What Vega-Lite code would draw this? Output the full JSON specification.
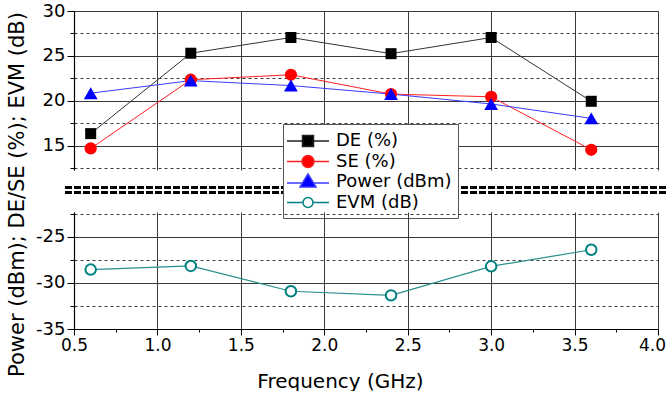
{
  "$schema": "https://vega.github.io/schema/vega-lite/v6.json",
  "padding": {"left": 5, "top": 2, "right": 0, "bottom": 0},
  "bounds": "flush",
  "resolve": {
    "scale": {"color": "independent", "fill": "independent", "shape": "independent"},
    "legend": {"color": "independent", "fill": "independent", "shape": "independent"}
  },
  "config": {
    "view": {"stroke": null},
    "font": "DejaVu Sans",
    "axis": {"domainColor": "black", "tickColor": "black", "labelColor": "black", "titleColor": "black", "gridColor": "#3a3a3a", "gridWidth": 1, "titleFontWeight": "normal", "domainWidth": 1.2, "labelFont": "DejaVu Sans", "titleFont": "DejaVu Sans", "labelFlush": false},
    "legend": {
      "orient": "none", "legendX": 209, "legendY": 113, "title": null,
      "fillColor": "white", "strokeColor": "#555555", "padding": 6,
      "symbolSize": 400, "symbolOffset": 8, "labelOffset": 17, "rowPadding": 0.5,
      "symbolStrokeWidth": 1.5, "symbolOpacity": 1,
      "labelFontSize": 18, "labelColor": "black", "labelFont": "DejaVu Sans"
    }
  },
  "datasets": {
    "main": [
      {"freq": 0.6, "series": "DE (%)", "value": 16.35},
      {"freq": 1.2, "series": "DE (%)", "value": 25.3},
      {"freq": 1.8, "series": "DE (%)", "value": 27.05},
      {"freq": 2.4, "series": "DE (%)", "value": 25.25},
      {"freq": 3.0, "series": "DE (%)", "value": 27.05},
      {"freq": 3.6, "series": "DE (%)", "value": 19.95},
      {"freq": 0.6, "series": "SE (%)", "value": 14.7},
      {"freq": 1.2, "series": "SE (%)", "value": 22.35},
      {"freq": 1.8, "series": "SE (%)", "value": 22.9},
      {"freq": 2.4, "series": "SE (%)", "value": 20.75},
      {"freq": 3.0, "series": "SE (%)", "value": 20.45},
      {"freq": 3.6, "series": "SE (%)", "value": 14.55},
      {"freq": 0.6, "series": "Power (dBm)", "value": 20.85},
      {"freq": 1.2, "series": "Power (dBm)", "value": 22.25},
      {"freq": 1.8, "series": "Power (dBm)", "value": 21.7},
      {"freq": 2.4, "series": "Power (dBm)", "value": 20.75},
      {"freq": 3.0, "series": "Power (dBm)", "value": 19.65},
      {"freq": 3.6, "series": "Power (dBm)", "value": 18.05},
      {"freq": 0.6, "series": "EVM (dB)", "value": -28.55},
      {"freq": 1.2, "series": "EVM (dB)", "value": -28.15},
      {"freq": 1.8, "series": "EVM (dB)", "value": -30.9},
      {"freq": 2.4, "series": "EVM (dB)", "value": -31.35},
      {"freq": 3.0, "series": "EVM (dB)", "value": -28.2},
      {"freq": 3.6, "series": "EVM (dB)", "value": -26.4}
    ]
  },
  "spacing": 42,
  "vconcat": [
    {
      "width": 584,
      "height": 159,
      "data": {"name": "main"},
      "encoding": {
        "x": {"field": "freq", "type": "quantitative", "scale": {"domain": [0.5, 4], "nice": false, "zero": false},
          "axis": {"values": [0.5, 1, 1.5, 2, 2.5, 3, 3.5, 4], "labels": false, "ticks": false, "domain": false, "title": null, "grid": true}},
        "y": {"field": "value", "type": "quantitative", "scale": {"domain": [12.3, 30], "nice": false, "zero": false},
          "axis": {
            "values": [12.5, 15, 17.5, 20, 22.5, 25, 27.5, 30],
            "labelExpr": "datum.value % 5 === 0 ? '' + datum.value : ''",
            "labelFontSize": 18, "labelPadding": 2,
            "tickSize": {"condition": {"test": "datum.value % 5 !== 0", "value": 4}, "value": 7},
            "gridDash": {"condition": {"test": "datum.value % 5 !== 0", "value": [3, 3]}, "value": []},
            "title": "Power (dBm); DE/SE (%); EVM (dB)",
            "titleFontSize": 21, "titleAngle": 270, "titleAlign": "center", "titleBaseline": "middle", "titleX": -57, "titleY": 183
          }}
      },
      "layer": [
        {"transform": [{"filter": "datum.series !== 'EVM (dB)'"}],
         "mark": {"type": "line", "strokeWidth": 1},
         "encoding": {"stroke": {"field": "series", "type": "nominal", "scale": {"domain": ["DE (%)", "SE (%)", "Power (dBm)", "EVM (dB)"], "range": ["#333333", "#ff2020", "#3a3aff", "#2a8f8f"]}, "legend": null}}},
        {"transform": [{"filter": "datum.series === 'DE (%)'"}],
         "mark": {"type": "point", "shape": "square", "filled": true, "color": "#000000", "size": 121, "opacity": 1}},
        {"transform": [{"filter": "datum.series === 'SE (%)'"}],
         "mark": {"type": "point", "shape": "circle", "filled": true, "color": "#ff0000", "size": 150, "opacity": 1}},
        {"transform": [{"filter": "datum.series === 'Power (dBm)'"}],
         "mark": {"type": "point", "shape": "triangle-up", "filled": true, "color": "#0000ff", "size": 190, "opacity": 1}},
        {"transform": [{"filter": "datum.series !== 'EVM (dB)'"}],
         "mark": {"type": "point", "filled": false, "opacity": 0},
         "encoding": {
           "color": {"field": "series", "type": "nominal",
             "scale": {"domain": ["DE (%)", "SE (%)", "Power (dBm)", "EVM (dB)"], "range": ["#222222", "#ff2020", "#3a3aff", "#008080"]},
             "legend": {"orient": "none", "legendX": 209, "legendY": 113, "title": null}},
           "fill": {"field": "series", "type": "nominal",
             "scale": {"domain": ["DE (%)", "SE (%)", "Power (dBm)", "EVM (dB)"], "range": ["#000000", "#ff0000", "#0000ff", "#ffffff"]},
             "legend": {"orient": "none", "legendX": 209, "legendY": 113, "title": null}},
           "shape": {"field": "series", "type": "nominal",
             "scale": {"domain": ["DE (%)", "SE (%)", "Power (dBm)", "EVM (dB)"], "range": [
               "M-2.1,0H-0.5M0.5,0H2.1M-0.55,-0.55H0.55V0.55H-0.55Z",
               "M-2.1,0H-0.55M0.55,0H2.1M-0.6,0A0.6,0.6,0,1,0,0.6,0A0.6,0.6,0,1,0,-0.6,0Z",
               "M-2.1,0.1H-0.6M0.6,0.1H2.1M0,-0.8L0.8,0.5H-0.8Z",
               "M-2.1,0H-0.55M0.55,0H2.1M-0.5,0A0.5,0.5,0,1,0,0.5,0A0.5,0.5,0,1,0,-0.5,0Z"
             ]},
             "legend": {"orient": "none", "legendX": 209, "legendY": 113, "title": null}}
         }},
        {"mark": {"type": "rule", "strokeDash": [6, 3], "strokeWidth": 2, "color": "black", "clip": false},
         "encoding": {"y": {"datum": 10.35}, "x": {"datum": 0.45}, "x2": {"datum": 4.065}}},
        {"mark": {"type": "rule", "strokeDash": [6, 3], "strokeWidth": 2, "color": "black", "clip": false},
         "encoding": {"y": {"datum": 9.8}, "x": {"datum": 0.45}, "x2": {"datum": 4.065}}}
      ]
    },
    {
      "width": 584,
      "height": 117,
      "data": {"name": "main"},
      "transform": [{"filter": "datum.series === 'EVM (dB)'"}],
      "encoding": {
        "x": {"field": "freq", "type": "quantitative", "scale": {"domain": [0.5, 4], "nice": false, "zero": false},
          "axis": {
            "values": [0.5, 0.75, 1, 1.25, 1.5, 1.75, 2, 2.25, 2.5, 2.75, 3, 3.25, 3.5, 3.75, 4],
            "labelExpr": "(datum.value * 2) % 1 === 0 ? format(datum.value, '.1f') : ''",
            "labelFontSize": 17, "labelPadding": 2, "labelFlush": false,
            "labelOffset": {"condition": {"test": "datum.value >= 3.9", "value": -6}, "value": 0},
            "tickSize": {"condition": {"test": "(datum.value * 2) % 1 !== 0", "value": 3}, "value": 6},
            "gridOpacity": {"condition": {"test": "(datum.value * 2) % 1 !== 0", "value": 0}, "value": 1},
            "grid": true,
            "title": "Frequency (GHz)", "titleFontSize": 20, "titleX": 266, "titleY": 52, "titleAlign": "center", "titleBaseline": "middle"
          }},
        "y": {"field": "value", "type": "quantitative", "scale": {"domain": [-35, -22.3], "nice": false, "zero": false},
          "axis": {
            "values": [-35, -32.5, -30, -27.5, -25, -22.5],
            "labelExpr": "datum.value % 5 === 0 ? '' + datum.value : ''",
            "labelFontSize": 18, "labelPadding": 2,
            "tickSize": {"condition": {"test": "datum.value % 5 !== 0", "value": 4}, "value": 7},
            "gridDash": {"condition": {"test": "datum.value % 5 !== 0", "value": [3, 3]}, "value": []},
            "title": null
          }}
      },
      "layer": [
        {"mark": {"type": "line", "strokeWidth": 1.2, "color": "#2a8f8f"}},
        {"mark": {"type": "point", "shape": "circle", "filled": false, "fill": "white", "color": "#008080", "strokeWidth": 2, "opacity": 1, "size": 110}}
      ]
    }
  ]
}
